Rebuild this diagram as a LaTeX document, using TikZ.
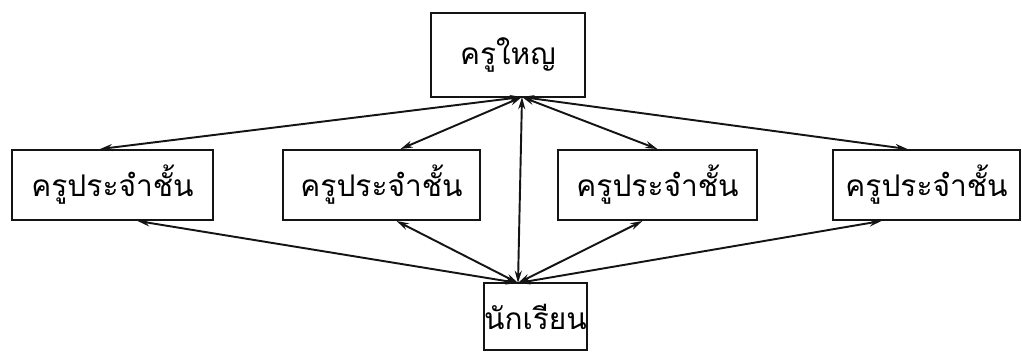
\documentclass[tikz,border=0pt]{standalone}
\usepackage{fontspec}
\newfontfamily\thaifont[Script=Thai]{Loma}
\usetikzlibrary{arrows.meta,calc}
\definecolor{figline}{RGB}{20,20,20}
\tikzset{
  rolebox/.style ={draw=figline, line width=1.1pt, inner sep=0pt, font=\thaifont\fontsize{17}{20}\selectfont},
  link/.style    ={draw=figline, line width=1.1pt, {Stealth[length=7pt,width=4pt]}-{Stealth[length=7pt,width=4pt]}},
}
\begin{document}
\begin{tikzpicture}
  \useasboundingbox (0,0) rectangle (20.44,7.04);
  \node[rolebox, minimum width=3.08cm, minimum height=1.68cm] (head) at (10.16,5.94) {ครูใหญ};
  \node[rolebox, minimum width=4.02cm, minimum height=1.4cm] (c1) at (2.25,3.34) {ครูประจำชั้น};
  \node[rolebox, minimum width=3.94cm, minimum height=1.4cm] (c2) at (7.63,3.34) {ครูประจำชั้น};
  \node[rolebox, minimum width=3.98cm, minimum height=1.4cm] (c3) at (13.15,3.34) {ครูประจำชั้น};
  \node[rolebox, minimum width=3.74cm, minimum height=1.4cm] (c4) at (18.53,3.34) {ครูประจำชั้น};
  \node[rolebox, minimum width=1.98cm, minimum height=1.34cm] (pupil) at (10.71,0.71) {นักเรียน};
  \coordinate (hub) at (10.44,5.10);
  \coordinate (foot) at (10.36,1.38);
  % from the head down to each class
  \draw[link] (hub) -- ([xshift=-0.25cm]c1.north);
  \draw[link] (hub) -- ([xshift=0.38cm]c2.north);
  \draw[link] (hub) -- (c3.north);
  \draw[link] (hub) -- ([xshift=-0.38cm]c4.north);
  \draw[link] (hub) -- (foot);
  % from each class down to the pupils
  \draw[link] ([xshift=0.5cm]c1.south) -- (foot);
  \draw[link] ([xshift=0.3cm]c2.south) -- (foot);
  \draw[link] ([xshift=-0.3cm]c3.south) -- (foot);
  \draw[link] ([xshift=-0.9cm]c4.south) -- (foot);
\end{tikzpicture}
\end{document}
